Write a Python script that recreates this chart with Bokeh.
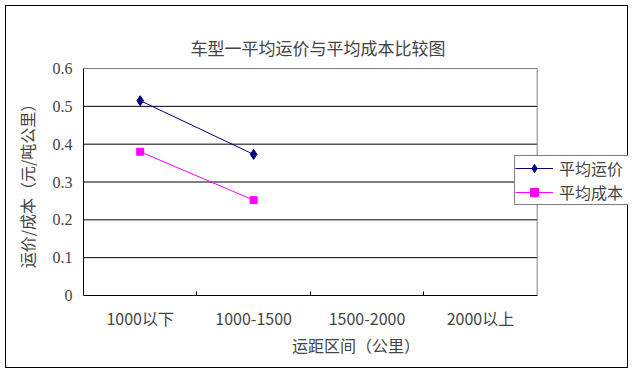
from bokeh.plotting import figure
from bokeh.models import Range1d, FixedTicker, Legend, LegendItem, Title
from bokeh.embed import file_html
from bokeh.resources import INLINE

categories = ["1000以下", "1000-1500", "1500-2000", "2000以上"]
price_cats = ["1000以下", "1000-1500"]
price_vals = [0.515, 0.373]
cost_cats = ["1000以下", "1000-1500"]
cost_vals = [0.38, 0.252]
y_ticks = [0, 0.1, 0.2, 0.3, 0.4, 0.5, 0.6]
y_tick_labels = ["0", "0.1", "0.2", "0.3", "0.4", "0.5", "0.6"]
chart_title = "车型一平均运价与平均成本比较图"

CJK = "Noto Sans CJK SC"
SERIF = "Liberation Serif"

n = len(categories)
pos = {c: i + 0.5 for i, c in enumerate(categories)}
EXTRA = 91 / 113.0  # room to the right of the last category for the legend

p = figure(width=623, height=363, x_range=Range1d(0, n + EXTRA),
           y_range=Range1d(0, 0.6), output_backend="svg", toolbar_location=None,
           min_border_left=77, min_border_right=1, min_border_top=62,
           min_border_bottom=74)
p.margin = (5, 5, 5, 5)
p.styles = {"border": "1px solid black"}

p.title.text = chart_title
p.title.align = "left"
p.title.vertical_align = "top"
p.title.text_font = CJK
p.title.text_font_size = "17px"
p.title.text_font_style = "normal"
p.title.standoff = 14
p.title.offset = 107

# invisible spacer between the plot area and the title
p.add_layout(Title(text=".", text_font_size="1px", text_alpha=0, standoff=18),
             "above")

p.background_fill_color = "white"
p.outline_line_color = None
p.xgrid.grid_line_color = None
p.ygrid.grid_line_color = None

# horizontal grid lines and plot-area border, limited to the category span
grid_y = y_ticks[1:]
p.segment(x0=[0] * len(grid_y), x1=[n] * len(grid_y), y0=grid_y, y1=grid_y,
          line_color="black", line_width=1)
p.segment(x0=[n], x1=[n], y0=[0], y1=[0.6], line_color="#808080", line_width=1)

p.yaxis.ticker = FixedTicker(ticks=y_ticks)
p.yaxis.major_label_overrides = {t: l for t, l in zip(y_ticks, y_tick_labels)}
p.yaxis.major_tick_line_color = None
p.yaxis.minor_tick_line_color = None
p.yaxis.axis_line_color = "black"
p.yaxis.major_label_text_font = SERIF
p.yaxis.major_label_text_font_size = "16px"
p.yaxis.major_label_standoff = 5
p.yaxis.axis_label = "运价/成本（元/吨公里）"
p.yaxis.axis_label_text_font = CJK
p.yaxis.axis_label_text_font_size = "16px"
p.yaxis.axis_label_text_font_style = "normal"
p.yaxis.axis_label_standoff = 11

p.xaxis.ticker = FixedTicker(ticks=[pos[c] for c in categories],
                             minor_ticks=list(range(1, n)))
p.xaxis.major_label_overrides = {pos[c]: c for c in categories}
p.xaxis.bounds = (0, n)
p.xaxis.major_tick_line_color = None
p.xaxis.minor_tick_line_color = "black"
p.xaxis.minor_tick_in = 4
p.xaxis.minor_tick_out = 0
p.xaxis.axis_line_color = "black"
p.xaxis.major_label_text_font = CJK
p.xaxis.major_label_text_font_size = "16px"
p.xaxis.major_label_standoff = 4
p.xaxis.axis_label = "运距区间（公里）"
p.xaxis.axis_label_text_font = CJK
p.xaxis.axis_label_text_font_size = "16px"
p.xaxis.axis_label_text_font_style = "normal"
p.xaxis.axis_label_standoff = 0

px = [pos[c] for c in price_cats]
cx = [pos[c] for c in cost_cats]
r1l = p.line(px, price_vals, line_color="#000080", line_width=1)
r1m = p.scatter(px, price_vals, marker="diamond", size=10,
                fill_color="#000080", line_color="#000080")
r2l = p.line(cx, cost_vals, line_color="#FF00FF", line_width=1)
r2m = p.scatter(cx, cost_vals, marker="square", size=7,
                fill_color="#FF00FF", line_color="#FF00FF")

legend = Legend(items=[LegendItem(label="平均运价", renderers=[r1l, r1m]),
                       LegendItem(label="平均成本", renderers=[r2l, r2m])],
                location=(431, 90), label_text_font=CJK,
                label_text_font_size="16px",
                border_line_color="black",
                border_line_width=1, background_fill_alpha=1,
                padding=0, spacing=0, margin=0, glyph_width=38,
                glyph_height=20, label_height=20, label_standoff=6,
                label_width=69)
p.add_layout(legend, "center")

open("out.html", "w").write(file_html(p, INLINE))
